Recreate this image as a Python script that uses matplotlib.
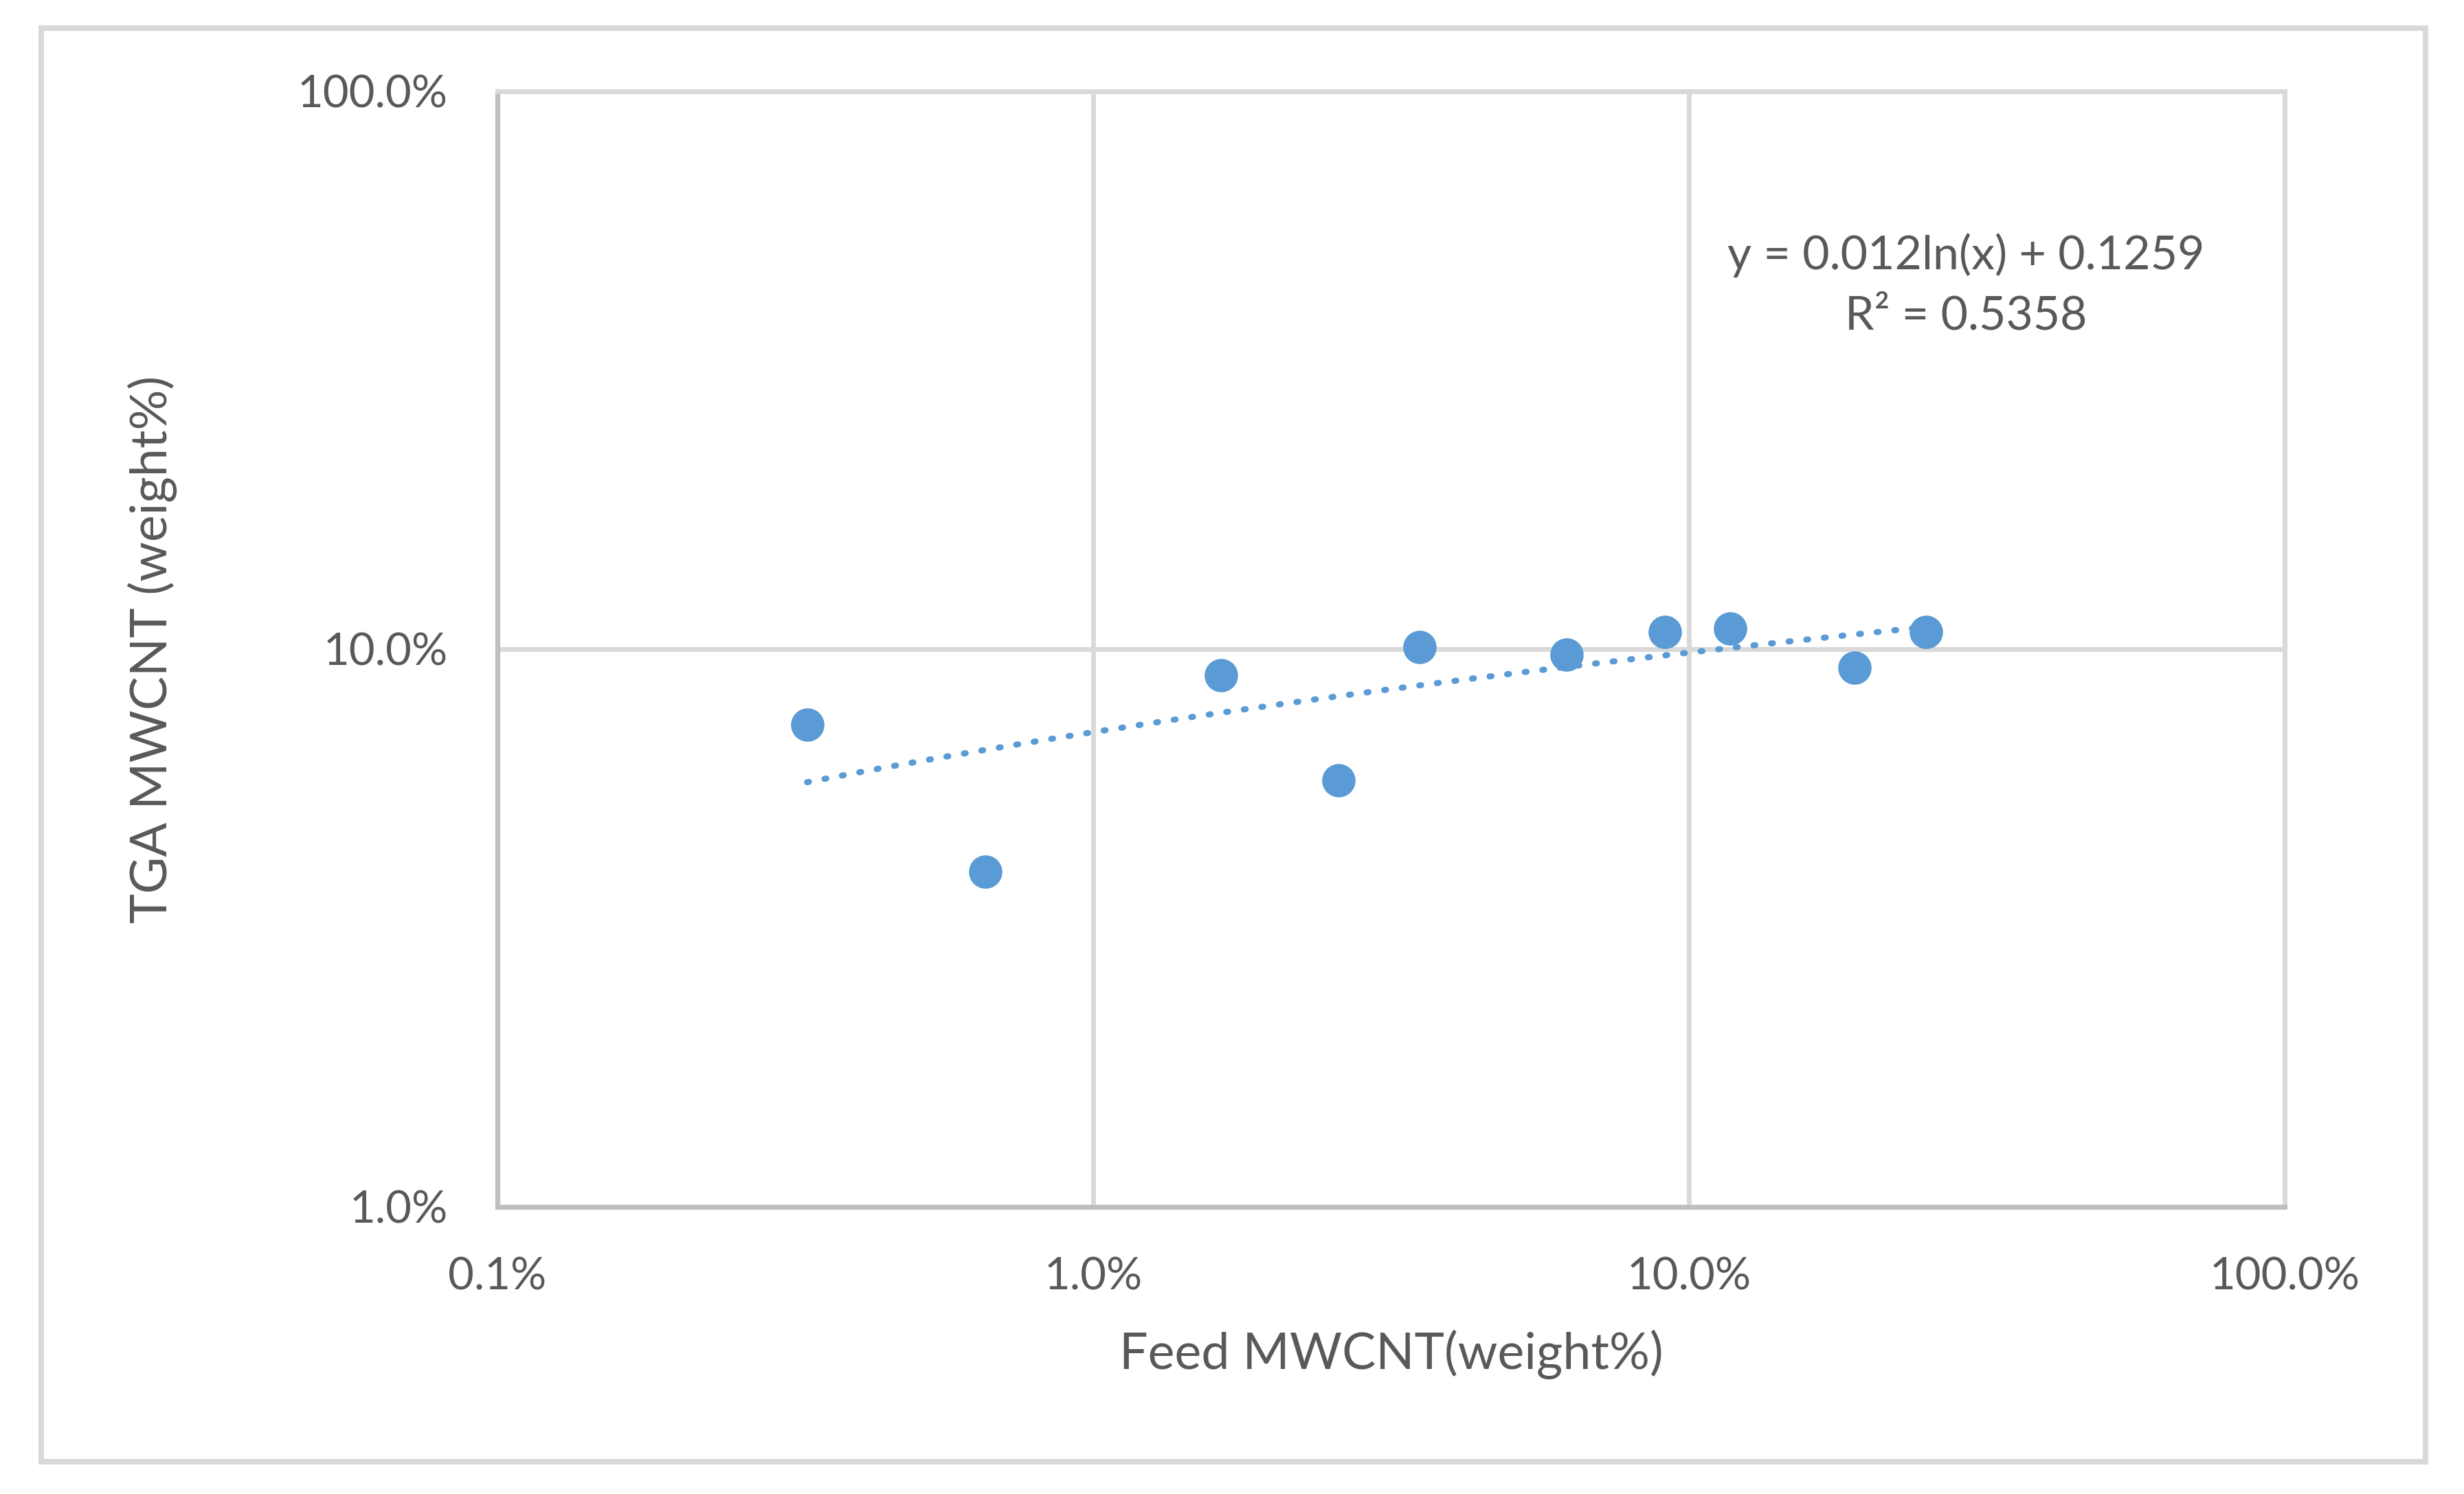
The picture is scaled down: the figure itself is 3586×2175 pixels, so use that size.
import numpy as np
import matplotlib
matplotlib.use("Agg")
import matplotlib.pyplot as plt
from matplotlib.ticker import FixedLocator, FuncFormatter, NullLocator
from matplotlib.patches import Rectangle

plt.rcParams['font.family'] = ['Lato', 'DejaVu Sans']

# Feed vs TGA MWCNT content (weight fraction)
feed_mwcnt = [0.00331, 0.00659, 0.01641, 0.02582, 0.0353, 0.0624, 0.0910, 0.1173, 0.1895, 0.250]
tga_mwcnt = [0.0732, 0.0399, 0.0897, 0.0581, 0.1007, 0.0978, 0.1073, 0.1089, 0.0927, 0.1073]

x_ticks = [0.001, 0.01, 0.1, 1.0]
y_ticks = [0.01, 0.1, 1.0]
trend_label = "y = 0.012ln(x) + 0.1259\nR\u00b2 = 0.5358"

blue = '#5b9bd5'
text_grey = '#595959'

fig = plt.figure(figsize=(17.935, 10.875), dpi=200)
ax = fig.add_axes([0.2018, 0.1922, 0.9270 - 0.2018, 0.9389 - 0.1922])

# logarithmic trendline fitted on the data
x = np.array(feed_mwcnt)
y = np.array(tga_mwcnt)
a, b = np.polyfit(np.log(x), y, 1)
xs = np.geomspace(x.min(), x.max(), 300)
ax.plot(xs, a * np.log(xs) + b, color=blue, lw=3.2,
        linestyle=(0, (0.3, 2.6)), dash_capstyle='round', zorder=4)

ax.plot(feed_mwcnt, tga_mwcnt, 'o', color=blue, markersize=17.5, markeredgewidth=0, zorder=3)

ax.set_xscale('log')
ax.set_yscale('log')
ax.set_xlim(0.001, 1.0)
ax.set_ylim(0.01, 1.0)

pct = FuncFormatter(lambda v, p: f"{v * 100:.1f}%")
ax.xaxis.set_major_locator(FixedLocator(x_ticks))
ax.yaxis.set_major_locator(FixedLocator(y_ticks))
ax.xaxis.set_minor_locator(NullLocator())
ax.yaxis.set_minor_locator(NullLocator())
ax.xaxis.set_major_formatter(pct)
ax.yaxis.set_major_formatter(pct)
ax.tick_params(axis='both', length=0, labelsize=23.5, labelcolor=text_grey, pad=26)

ax.grid(True, color='#d9d9d9', lw=2.5)
ax.set_axisbelow(True)
for s in ['top', 'right']:
    ax.spines[s].set_color('#d9d9d9')
    ax.spines[s].set_linewidth(2.5)
for s in ['left', 'bottom']:
    ax.spines[s].set_color('#bfbfbf')
    ax.spines[s].set_linewidth(2.6)

ax.set_xlabel('Feed MWCNT(weight%)', fontsize=26.5, color=text_grey, va='center')
ax.xaxis.set_label_coords(0.5, -0.132)
ax.set_ylabel('TGA MWCNT (weight%)', fontsize=26.5, color=text_grey, va='center')
ax.yaxis.set_label_coords(-0.193, 0.5)

ax.text(0.8216, 0.826, trend_label, transform=ax.transAxes, ha='center', va='center',
        multialignment='center', fontsize=24.5, color=text_grey, linespacing=1.5)

# chart area border
fig.patches.append(Rectangle((0.01673, 0.02161), 0.9841 - 0.01673, 0.98115 - 0.02161,
                             transform=fig.transFigure, fill=False,
                             edgecolor='#d9d9d9', lw=2.9))

fig.savefig('out.png', dpi=200)
